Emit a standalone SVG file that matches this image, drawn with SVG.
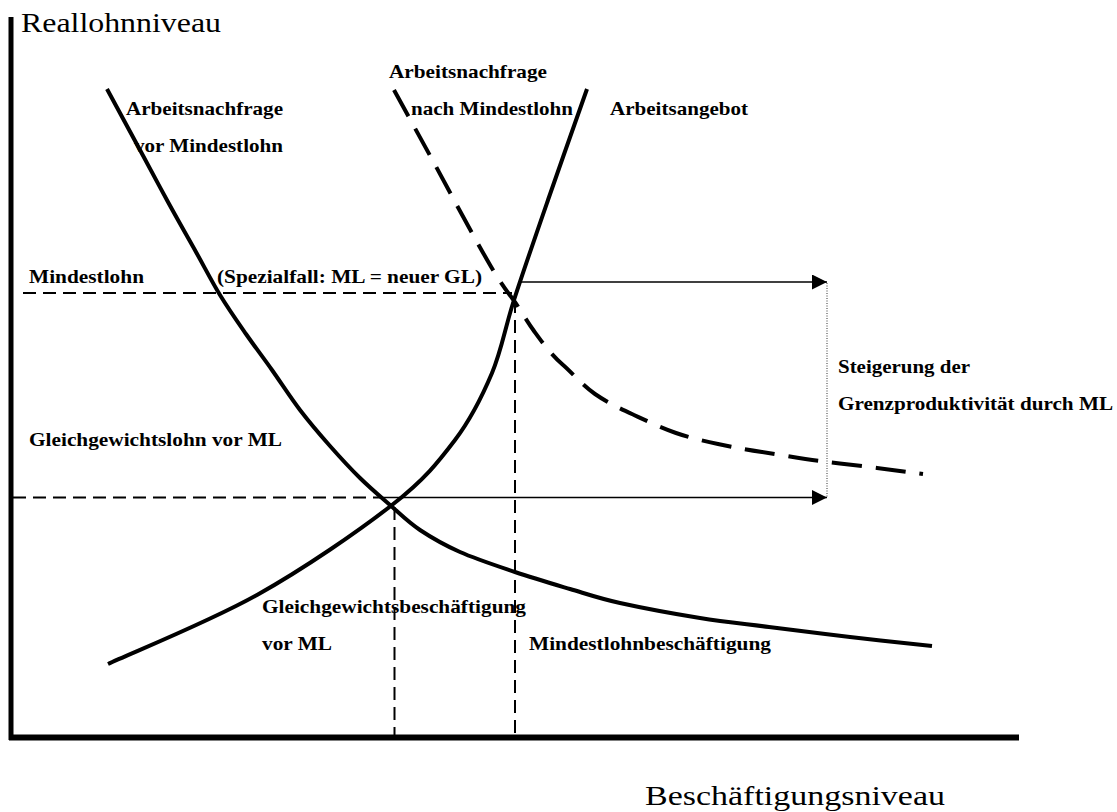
<svg xmlns="http://www.w3.org/2000/svg" width="1117" height="812" viewBox="0 0 1117 812">
<style>
.lbl{font-family:"Liberation Serif","Times New Roman",serif;font-weight:bold;font-size:19px;fill:#000}
.ax{font-family:"Liberation Serif","Times New Roman",serif;font-size:27px;fill:#000}
.curve{fill:none;stroke:#000;stroke-width:4}
.dcurve{fill:none;stroke:#000;stroke-width:4;stroke-dasharray:30 14}
.thin{fill:none;stroke:#000;stroke-width:2;stroke-dasharray:13 7}
.arr{fill:none;stroke:#000;stroke-width:1.6}
.axis{fill:none;stroke:#000}
</style>
<defs>
<marker id="ah" markerUnits="userSpaceOnUse" markerWidth="16" markerHeight="16" refX="15" refY="7.5" orient="auto">
<path d="M0,0 L15,7.5 L0,15 z" fill="#000"/>
</marker>
</defs>
<rect width="1117" height="812" fill="#fff"/>
<g id="axes">
<line class="axis" x1="11" y1="17" x2="11" y2="740" stroke-width="5"/>
<line class="axis" x1="9" y1="737.5" x2="1019" y2="737.5" stroke-width="6"/>
<text class="ax" x="21" y="32" textLength="200" lengthAdjust="spacingAndGlyphs">Reallohnniveau</text>
<text class="ax" x="645" y="805" textLength="300" lengthAdjust="spacingAndGlyphs">Beschäftigungsniveau</text>
</g>
<g id="connectors">
<line class="thin" x1="23" y1="293" x2="512" y2="293"/>
<line class="thin" x1="13" y1="497.5" x2="382" y2="497.5"/>
<line class="thin" x1="394.5" y1="507" x2="394.5" y2="735"/>
<line class="thin" x1="515" y1="300" x2="515" y2="735"/>
<line class="arr" x1="519" y1="282" x2="827" y2="282" marker-end="url(#ah)"/>
<line class="arr" x1="382" y1="497.5" x2="827" y2="497.5" marker-end="url(#ah)"/>
<line x1="827" y1="283" x2="827" y2="497" stroke="#333" stroke-width="1" stroke-dasharray="1 1.5"/>
</g>
<g id="demand-before">
<path class="curve" d="M107,89 C112.5,99.2 129.8,131.2 140,150 C150.2,168.8 158.7,185 168,202 C177.3,219 187.3,236.5 196,252 C204.7,267.5 211.7,281.3 220,295 C228.3,308.7 237.3,321.5 246,334 C254.7,346.5 263,357.3 272,370 C281,382.7 290.3,397.3 300,410 C309.7,422.7 320,434.7 330,446 C340,457.3 350,468.2 360,478 C370,487.8 380,496.3 390,505 C400,513.7 408.3,522.2 420,530 C431.7,537.8 444.2,545 460,552 C475.8,559 496.7,565.8 515,572 C533.3,578.2 552.5,583.8 570,589 C587.5,594.2 598.3,598.2 620,603 C641.7,607.8 675.2,614 700,618 C724.8,622 744,623.8 769,627 C794,630.2 822.8,633.8 850,637 C877.2,640.2 918.3,644.5 932,646"/>
<text class="lbl" x="126" y="115" textLength="157" lengthAdjust="spacingAndGlyphs">Arbeitsnachfrage</text>
<text class="lbl" x="134" y="152" textLength="149" lengthAdjust="spacingAndGlyphs">vor Mindestlohn</text>
</g>
<g id="demand-after">
<path class="dcurve" d="M394,90 C400.5,101.8 426.5,149.2 433,161 C439.5,172.8 461,213.3 472,233 C479,245.5 486.7,259.5 493,270 C499.3,280.5 505,289 512,298 C519,307 526,320 534,331 C542,342 550.5,354 562,364 C573.5,374 582,385 595,394 C608,403 620,408.5 634,415 C648,421.5 662,428.2 676,433 C690,437.8 703.5,441 718,444 C732.5,447 743,449.2 762,452 C781,454.8 801,458.7 820,461 C839,463.3 861.7,466 877,468 C892.3,470 915.3,473 923,474"/>
<text class="lbl" x="389" y="78" textLength="158" lengthAdjust="spacingAndGlyphs">Arbeitsnachfrage</text>
<text class="lbl" x="411" y="115" textLength="162" lengthAdjust="spacingAndGlyphs">nach Mindestlohn</text>
</g>
<g id="supply">
<path class="curve" d="M108,664 C132.8,652.5 209.7,621.5 257,595 C304.3,568.5 359,530.8 392,505 C425,479.2 438.3,462 455,440 C471.7,418 482.2,396.3 492,373 C501.8,349.7 504.7,328.8 514,300 C523.3,271.2 535.8,235.2 548,200 C560.2,164.8 580.5,107.5 587,89"/>
<text class="lbl" x="610" y="115" textLength="138" lengthAdjust="spacingAndGlyphs">Arbeitsangebot</text>
</g>
<g id="labels">
<text class="lbl" x="29" y="283" textLength="115" lengthAdjust="spacingAndGlyphs">Mindestlohn</text>
<text class="lbl" x="217" y="283" textLength="265" lengthAdjust="spacingAndGlyphs">(Spezialfall: ML = neuer GL)</text>
<text class="lbl" x="29" y="446" textLength="253" lengthAdjust="spacingAndGlyphs">Gleichgewichtslohn vor ML</text>
<text class="lbl" x="838" y="373" textLength="132" lengthAdjust="spacingAndGlyphs">Steigerung der</text>
<text class="lbl" x="838" y="410" textLength="275" lengthAdjust="spacingAndGlyphs">Grenzproduktivität durch ML</text>
<text class="lbl" x="262" y="613" textLength="264" lengthAdjust="spacingAndGlyphs">Gleichgewichtsbeschäftigung</text>
<text class="lbl" x="262" y="650" textLength="70" lengthAdjust="spacingAndGlyphs">vor ML</text>
<text class="lbl" x="529" y="650" textLength="242" lengthAdjust="spacingAndGlyphs">Mindestlohnbeschäftigung</text>
</g>
</svg>
